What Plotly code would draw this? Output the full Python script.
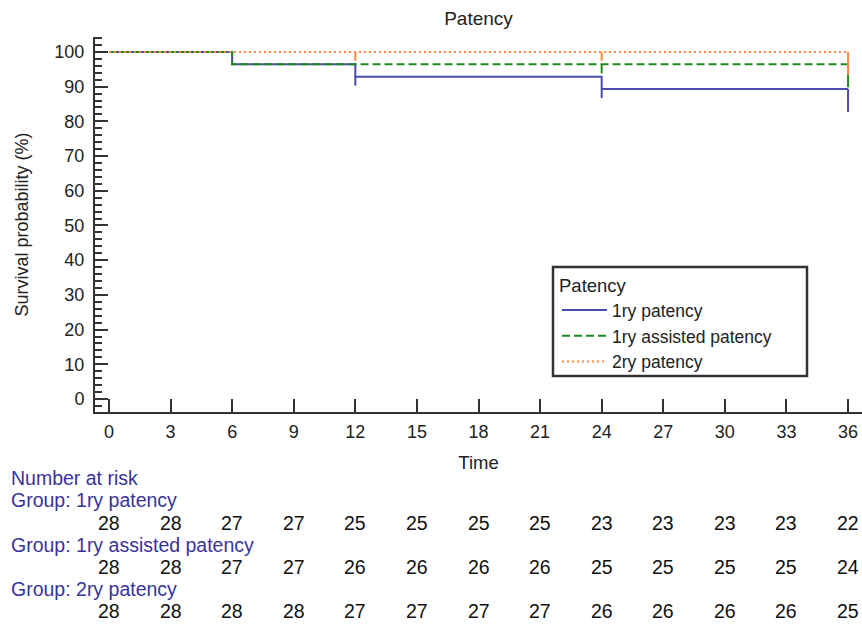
import plotly.graph_objects as go

# ---------------- data ----------------
series_names = ["1ry patency", "1ry assisted patency", "2ry patency"]

time_1ry = [0, 6, 12, 24, 36]
surv_1ry = [100, 96.43, 92.86, 89.29, 89.29]
cens_1ry = [12, 24, 36]

time_asst = [0, 6, 36]
surv_asst = [100, 96.43, 96.43]
cens_asst = [24, 36]

time_2ry = [0, 36]
surv_2ry = [100, 100]
cens_2ry = [12, 24, 36]

risk_times = [0, 3, 6, 9, 12, 15, 18, 21, 24, 27, 30, 33, 36]
risk_1ry = [28, 28, 27, 27, 25, 25, 25, 25, 23, 23, 23, 23, 22]
risk_asst = [28, 28, 27, 27, 26, 26, 26, 26, 25, 25, 25, 25, 24]
risk_2ry = [28, 28, 28, 28, 27, 27, 27, 27, 26, 26, 26, 26, 25]

# ---------------- style ----------------
W, H = 862, 624
P_LEFT, P_RIGHT, P_TOP, P_BOTTOM = 95, 862, 37, 412
ML = P_LEFT
MR = W - P_RIGHT
MT = P_TOP
MB = H - P_BOTTOM

FONT = "Liberation Sans, Arial, sans-serif"
colors = ["#4b4bb0", "#1f8a1f", "#ff8a3d"]
dashes = ["solid", "8px,4px", "2px,3px"]
TEXT_BLUE = "#3a3399"

X0, X1 = -0.68, 36.68
Y0, Y1 = -3.75, 104.3
plot_h = H - MT - MB
plot_w = W - ML - MR
px_per_y = plot_h / (Y1 - Y0)
short_tick = 9 / px_per_y
long_tick = 23 / px_per_y


def py(pix):
    """pixel y -> paper y"""
    return (P_BOTTOM - pix) / plot_h


def px(pix):
    """pixel x -> paper x"""
    return (pix - P_LEFT) / plot_w


def surv_at(times, survs, t):
    v = survs[0]
    for ti, si in zip(times, survs):
        if ti <= t:
            v = si
    return v


fig = go.Figure()

groups = [
    (time_1ry, surv_1ry, cens_1ry),
    (time_asst, surv_asst, cens_asst),
    (time_2ry, surv_2ry, cens_2ry),
]

for (tt, ss, cc), name, col, dsh in zip(groups, series_names, colors, dashes):
    fig.add_trace(go.Scatter(
        x=tt, y=ss, mode="lines", name=name, line_shape="hv",
        line=dict(color=col, width=2, dash=dsh),
    ))

# censor marks (downward ticks)
for (tt, ss, cc), col in zip(groups, colors):
    xs, ys = [], []
    for t in cc:
        s = surv_at(tt, ss, t)
        ln = long_tick if t == max(risk_times) else short_tick
        xs += [t, t, None]
        ys += [s, s - ln, None]
    fig.add_trace(go.Scatter(
        x=xs, y=ys, mode="lines", showlegend=False, hoverinfo="skip",
        line=dict(color=col, width=2),
    ))

labels = [
    ("Number at risk", 478),
    ("Group: 1ry patency", 500),
    ("Group: 1ry assisted patency", 545),
    ("Group: 2ry patency", 589),
]
for txt, yp in labels:
    fig.add_annotation(text=txt, xref="paper", yref="paper", x=px(9), y=py(yp),
                       xanchor="left", yanchor="middle", showarrow=False,
                       font=dict(family=FONT, size=19.5, color=TEXT_BLUE))

for row, yp in zip([risk_1ry, risk_asst, risk_2ry], [523, 567, 611]):
    for t, n in zip(risk_times, row):
        fig.add_annotation(text=str(n), xref="x", yref="paper", x=t, y=py(yp),
                           xanchor="center", yanchor="middle", showarrow=False,
                           font=dict(family=FONT, size=19.5, color="#111"))

# legend frame
fig.add_shape(type="rect", xref="paper", yref="paper",
              x0=px(553), x1=px(807), y0=py(376), y1=py(267),
              line=dict(color="#333", width=2.5), fillcolor="white", layer="above")

fig.update_layout(
    width=W, height=H,
    margin=dict(l=ML, r=MR, t=MT, b=MB, autoexpand=False),
    paper_bgcolor="white", plot_bgcolor="white",
    font=dict(family=FONT, size=18, color="#222"),
    title=dict(text="Patency", x=0.5, xref="paper", y=1 - 18 / H, yref="container",
               xanchor="center", yanchor="middle",
               font=dict(family=FONT, size=19, color="#222")),
    showlegend=True,
    legend=dict(
        title=dict(text="Patency", font=dict(family=FONT, size=18.5, color="#222")),
        x=px(557), y=py(268), xanchor="left", yanchor="top",
        borderwidth=0, bgcolor="rgba(0,0,0,0)",
        font=dict(family=FONT, size=17.5, color="#222"),
        itemwidth=45, tracegroupgap=0,
    ),
    xaxis=dict(
        range=[X0, X1], tickmode="array", tickvals=risk_times,
        ticktext=[str(t) for t in risk_times],
        ticks="inside", ticklen=13, tickwidth=1.5, tickcolor="#333",
        showline=True, linecolor="#333", linewidth=2,
        showgrid=False, zeroline=False,
        tickfont=dict(family=FONT, size=18, color="#222"),
        ticklabelstandoff=2,
        title=dict(text="Time", standoff=15, font=dict(family=FONT, size=18.5, color="#222")),
    ),
    yaxis=dict(
        range=[Y0, Y1], tickmode="linear", tick0=0, dtick=10,
        ticks="inside", ticklen=13, tickwidth=1.5, tickcolor="#333",
        minor=dict(dtick=2, ticks="inside", ticklen=7, tickwidth=1.5, tickcolor="#333"),
        showline=True, linecolor="#333", linewidth=2,
        showgrid=False, zeroline=False,
        tickfont=dict(family=FONT, size=18, color="#222"),
        ticklabelstandoff=5,
        title=dict(text="Survival probability (%)", standoff=21,
                   font=dict(family=FONT, size=18, color="#222")),
    ),
)

fig.write_html("out.html",
               config={"displayModeBar": False},
               post_script="document.body.style.margin='0';document.body.style.overflow='hidden';")
